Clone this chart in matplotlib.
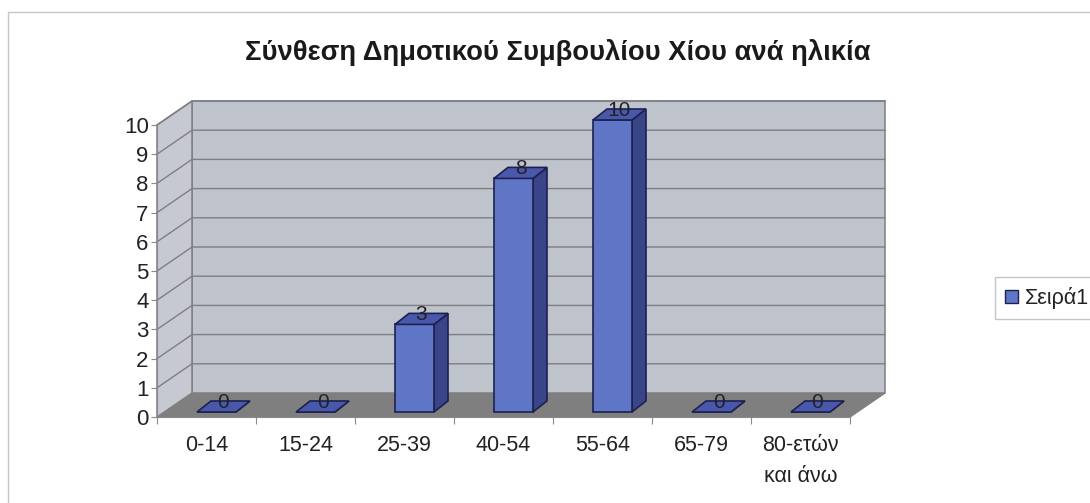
import numpy as np
import matplotlib
matplotlib.use('Agg')
import matplotlib.pyplot as plt
from matplotlib.patches import Patch, Rectangle

plt.rcParams['font.family'] = ['Liberation Sans', 'DejaVu Sans']

categories = ['0-14', '15-24', '25-39', '40-54', '55-64', '65-79', '80-ετών\nκαι άνω']
values = [0, 0, 3, 8, 10, 0, 0]
yticks = list(range(0, 11))

W, H = 1090, 503
# one category = 99 px, one unit = 29.2 px on the front plane
px_x = 1 / 99
px_y = 1 / 29.2
wall_dx, wall_dy = 35 * px_x, 24 * px_y      # oblique depth of the walls
bar_dx, bar_dy = 14 * px_x, 11 * px_y        # depth of a bar
off_dx, off_dy = 10 * px_x, 5 * px_y         # bar sits a bit behind the front edge
bar_w = 39 * px_x

front_c = '#5f76c6'
side_c = '#3a4488'
top_c = '#4a58ac'
edge_c = '#1c2150'
grid_c = '#7d7f84'
text_c = '#222226'

fig = plt.figure(figsize=(W / 100, H / 100), dpi=100, facecolor='white')
fig.add_artist(Rectangle((8 / W, -0.01), 1.1, 1 - 12 / H + 0.01, transform=fig.transFigure,
                         fc='white', ec='#c4c6c8', lw=1, zorder=-1))
ax = fig.add_axes([157 / W, (H - 417) / H, 693 / W, 292 / H])
ax.patch.set_alpha(0)
n = len(categories)
ax.set_xlim(0, n)
ax.set_ylim(0, 10)

# walls and floor
ax.fill([0, n, n + wall_dx, wall_dx], [0, 0, wall_dy, wall_dy], color='#7f7f7f', clip_on=False, zorder=1)
ax.fill([wall_dx, n + wall_dx, n + wall_dx, wall_dx], [wall_dy, wall_dy, 10 + wall_dy, 10 + wall_dy],
        fc='#bfc3cc', ec=grid_c, lw=1.1, clip_on=False, zorder=1)
ax.fill([0, wall_dx, wall_dx, 0], [0, wall_dy, 10 + wall_dy, 10],
        fc='#c6c9d2', ec=grid_c, lw=1.1, clip_on=False, zorder=1)
for t in yticks[1:]:
    ax.plot([0, wall_dx, n + wall_dx], [t, t + wall_dy, t + wall_dy], color=grid_c, lw=1,
            clip_on=False, zorder=2)

# bars
x = np.arange(n) + 0.5 + off_dx
vals = np.array(values, dtype=float)
ax.bar(x, vals, width=bar_w, bottom=off_dy, color=front_c, edgecolor=edge_c, lw=1.2, clip_on=False, zorder=4)
for xi, v in zip(x, vals):
    xl, xr = xi - bar_w / 2, xi + bar_w / 2
    y0, y1 = off_dy, off_dy + v
    ax.fill([xr, xr + bar_dx, xr + bar_dx, xr], [y0, y0 + bar_dy, y1 + bar_dy, y1],
            fc=side_c, ec=edge_c, lw=1.2, clip_on=False, zorder=3)
    ax.fill([xl, xr, xr + bar_dx, xl + bar_dx], [y1, y1, y1 + bar_dy, y1 + bar_dy],
            fc=top_c, ec=edge_c, lw=1.2, clip_on=False, zorder=4)
    ax.text(xi + 7 * px_x, y1 + 10 * px_y, '%d' % v, ha='center', va='center', fontsize=15,
            color=text_c, zorder=6)

# axes
for s in ['top', 'right']:
    ax.spines[s].set_visible(False)
for s in ['left', 'bottom']:
    ax.spines[s].set_color('#8a8a8a')
ax.set_yticks(yticks)
ax.set_xticks(np.arange(n + 1))
ax.set_xticklabels([])
ax.set_xticks(np.arange(n) + 0.5, minor=True)
ax.set_xticklabels(categories, minor=True, linespacing=1.6, va='top')
ax.tick_params(axis='x', which='major', length=5, color='#8a8a8a')
ax.tick_params(axis='x', which='minor', length=0, labelsize=15.5, pad=13, labelcolor=text_c)
ax.tick_params(axis='y', length=4, color='#8a8a8a', labelsize=16, pad=2, labelcolor=text_c)

fig.text(558 / W, 1 - 53 / H, 'Σύνθεση Δημοτικού Συμβουλίου Χίου ανά ηλικία', ha='center', va='center',
         fontsize=19.7, fontweight='bold', color='#1a1a1a')

leg = fig.legend(handles=[Patch(fc=front_c, ec=edge_c, label='Σειρά1')], loc='center left',
                 bbox_to_anchor=(995 / W, 1 - 298 / H), fontsize=15.5, frameon=True, fancybox=False,
                 edgecolor='#c4c6c8', framealpha=1, handlelength=0.6, handleheight=0.6,
                 handletextpad=0.33, borderpad=0.45, borderaxespad=0, labelcolor=text_c)

fig.savefig('out.png', dpi=100)
